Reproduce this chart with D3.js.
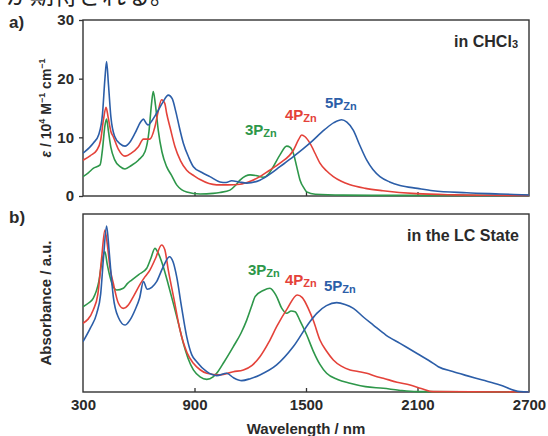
<!DOCTYPE html>
<html><head><meta charset="utf-8">
<script src="https://cdn.jsdelivr.net/npm/d3@7"></script>
<style>
html,body{margin:0;padding:0;background:#fff;}
svg{display:block;}
</style></head>
<body>
<svg id="chart" width="548" height="436"></svg>
<script>
// ---------- data ----------
const xTicks = [300, 900, 1500, 2100, 2700];
const yTicksA = [0, 10, 20, 30];

// Panel a) in CHCl3 : epsilon / 10^4 M-1 cm-1
const wlA3 = [300,330,355,392,405,418,427,437,450,470,500,526,560,598,634,655,668,678,690,705,725,750,775,804,830,858,930,1000,1037,1091,1120,1145,1175,1199,1230,1270,1300,1324,1360,1396,1415,1432,1450,1468,1490,1504,1550,1700,2000,2700];
const epsA3 = [3.3,4.0,4.7,5.3,8,12,13.1,11,8.3,6.2,5.0,4.6,5.2,6.1,7.6,11,15.5,17.8,15.5,11.2,7.5,5.0,3.6,1.9,1.1,0.7,0.35,0.45,0.6,1.0,1.8,2.7,3.4,3.6,3.5,3.2,3.8,5.0,7.0,8.5,8.3,7.3,5.0,2.7,1.3,0.7,0.3,0.15,0.1,0.1];

const wlA4 = [300,340,374,395,410,424,435,450,463,490,526,560,598,625,660,687,705,723,740,750,770,795,825,858,900,930,1019,1080,1145,1200,1252,1300,1360,1432,1460,1477,1495,1521,1550,1575,1610,1647,1690,1737,1820,1914,2096,2300,2500,2700];
const epsA4 = [6.1,6.9,7.8,9.5,13,15.1,13.5,11,10.1,8,6.8,7.3,8.4,9.7,9.7,11.8,14.5,16.4,15.8,14.1,11.5,8.4,6,4.4,3.4,2.8,1.9,1.9,2.0,2.5,3.3,4.3,5.6,7.8,9.6,10.4,10.1,9.0,7.2,5.6,4.3,3.3,2.5,1.9,1.3,0.9,0.4,0.2,0.12,0.08];

const wlA5 = [300,355,385,405,418,427,437,450,470,500,526,555,580,610,625,640,651,670,696,730,759,780,800,820,840,870,894,940,983,1037,1070,1100,1140,1181,1252,1300,1360,1432,1521,1600,1650,1692,1720,1755,1790,1827,1860,1898,1950,2006,2100,2183,2365,2544,2700];
const epsA5 = [7.3,9.0,10.5,14,20,22.9,19,13.5,10.2,8.9,8.5,9.3,10.7,12.6,13.1,12.4,12.1,12.8,14.1,16,17.2,16.6,14.3,11.5,9.0,6.5,5.0,4.0,3.3,2.4,2.3,2.6,2.4,2.2,2.7,3.6,5.0,6.7,9.0,11.3,12.5,13.0,12.6,11.2,8.6,6.1,4.5,3.3,2.4,1.8,1.3,0.9,0.56,0.35,0.17];

// Panel b) in the LC state : absorbance (a.u.)
const wlB3 = [300,330,355,385,405,418,430,445,463,481,517,540,562,600,643,665,687,705,732,760,786,815,840,865,894,930,966,1000,1019,1060,1109,1150,1181,1210,1226,1270,1306,1340,1370,1396,1420,1441,1468,1504,1539,1575,1611,1670,1737,1820,1916,2000,2096,2700];
const absB3 = [0.479,0.50,0.526,0.62,0.75,0.788,0.72,0.648,0.59,0.573,0.583,0.61,0.629,0.66,0.695,0.75,0.807,0.78,0.704,0.60,0.498,0.38,0.273,0.19,0.124,0.085,0.071,0.085,0.105,0.17,0.255,0.33,0.404,0.49,0.536,0.57,0.583,0.54,0.47,0.442,0.455,0.451,0.40,0.32,0.23,0.155,0.105,0.07,0.049,0.03,0.021,0.01,0.002,0.0];

const wlB4 = [300,355,380,400,418,432,445,463,490,517,545,571,610,634,660,690,723,740,759,790,822,860,894,930,966,1037,1109,1163,1210,1252,1300,1342,1400,1453,1480,1512,1540,1575,1610,1647,1690,1737,1780,1827,1870,1916,1990,2060,2120,2185,2700];
const absB4 = [0.386,0.461,0.55,0.75,0.910,0.82,0.70,0.611,0.50,0.470,0.49,0.536,0.61,0.648,0.685,0.75,0.826,0.80,0.685,0.52,0.348,0.22,0.161,0.125,0.105,0.096,0.114,0.124,0.15,0.198,0.28,0.367,0.47,0.545,0.53,0.47,0.40,0.292,0.23,0.180,0.145,0.124,0.115,0.105,0.09,0.077,0.055,0.039,0.02,0.002,0.0];

const wlB5 = [300,340,374,395,410,427,440,452,463,490,526,550,580,605,625,646,670,696,730,765,785,804,830,858,885,912,966,1019,1073,1110,1154,1200,1252,1342,1432,1521,1558,1610,1665,1710,1755,1810,1862,1930,2006,2100,2185,2212,2290,2365,2450,2544,2652,2700];
const absB5 = [0.283,0.36,0.442,0.55,0.75,0.933,0.80,0.65,0.536,0.42,0.376,0.40,0.461,0.53,0.620,0.577,0.588,0.620,0.70,0.760,0.73,0.648,0.48,0.311,0.21,0.170,0.114,0.092,0.105,0.08,0.064,0.075,0.096,0.152,0.255,0.395,0.442,0.485,0.502,0.492,0.470,0.42,0.376,0.32,0.273,0.215,0.161,0.142,0.115,0.092,0.067,0.039,0.002,0.0];

// ---------- layout ----------
const COLORS = { g: "#2e974a", r: "#e4423a", b: "#2c5ea8" };
const TXT = "#2a2a2a";
const FONT = "'Liberation Sans', Arial, Helvetica, sans-serif";
const L = 83, R = 529;
const A = { top: 20, bottom: 196 };
const B = { top: 214, bottom: 392 };

const svg = d3.select("#chart");

// Japanese text cut at top
svg.append("text").attr("x", 6).attr("y", 4)
  .attr("font-family", "'Noto Sans CJK JP', sans-serif").attr("font-size", 24)
  .attr("fill", "#222").text("が期待される。");

const x = d3.scaleLinear().domain([300, 2700]).range([L, R]);
const yA = d3.scaleLinear().domain([0, 30]).range([A.bottom, A.top]);
const yB = d3.scaleLinear().domain([0, 1]).range([B.bottom, B.top]);

function panel(P, yScale, series, clipId) {
  const g = svg.append("g");
  g.append("clipPath").attr("id", clipId).append("rect")
    .attr("x", L).attr("y", P.top - 1).attr("width", R - L).attr("height", P.bottom - P.top + 2);
  g.append("rect").attr("x", L).attr("y", P.top).attr("width", R - L).attr("height", P.bottom - P.top)
    .attr("fill", "none").attr("stroke", "#333").attr("stroke-width", 1.4);
  const xa = g.append("g").attr("transform", `translate(0,${P.bottom})`)
    .call(d3.axisBottom(x).tickValues(xTicks.slice(1, -1)).tickSizeInner(-4).tickSizeOuter(0).tickFormat(""));
  xa.select(".domain").remove();
  xa.selectAll("line").attr("stroke", "#333").attr("stroke-width", 1.3);
  const line = d3.line().x(d => x(d[0])).y(d => yScale(d[1])).curve(d3.curveMonotoneX);
  const lg = g.append("g").attr("clip-path", `url(#${clipId})`);
  series.forEach(s => {
    lg.append("path").datum(d3.zip(s.wl, s.v)).attr("d", line)
      .attr("fill", "none").attr("stroke", s.c).attr("stroke-width", 1.6)
      .attr("stroke-linejoin", "round");
  });
  return g;
}

panel(A, yA, [
  { wl: wlA3, v: epsA3, c: COLORS.g },
  { wl: wlA4, v: epsA4, c: COLORS.r },
  { wl: wlA5, v: epsA5, c: COLORS.b }
], "clipA");

panel(B, yB, [
  { wl: wlB3, v: absB3, c: COLORS.g },
  { wl: wlB4, v: absB4, c: COLORS.r },
  { wl: wlB5, v: absB5, c: COLORS.b }
], "clipB");

// y axis panel a (outward ticks)
const ya = svg.append("g").attr("transform", `translate(${L},0)`)
  .call(d3.axisLeft(yA).tickValues(yTicksA).tickSizeInner(4).tickSizeOuter(0).tickPadding(5));
ya.select(".domain").remove();
ya.selectAll("line").attr("stroke", "#333").attr("stroke-width", 1.3);
ya.selectAll("text").attr("font-family", FONT).attr("font-weight", "bold")
  .attr("font-size", 15).attr("fill", TXT);

// x axis labels (bottom)
const xb = svg.append("g").attr("transform", `translate(0,${B.bottom})`)
  .call(d3.axisBottom(x).tickValues(xTicks).tickFormat(d3.format("d")).tickSize(0).tickPadding(7));
xb.select(".domain").remove();
xb.selectAll("text").attr("font-family", FONT).attr("font-weight", "bold")
  .attr("font-size", 15).attr("fill", TXT);

function txt(xp, yp, size, anchor, fill) {
  return svg.append("text").attr("x", xp).attr("y", yp).attr("font-family", FONT)
    .attr("font-weight", "bold").attr("font-size", size).attr("text-anchor", anchor || "start")
    .attr("fill", fill || TXT);
}

txt(9, 28, 17).text("a)");
txt(9, 223, 17).text("b)");

txt((L + R) / 2, 434, 15, "middle").text("Wavelength / nm");

const ytA = svg.append("text").attr("transform", `translate(51,${(A.top + A.bottom) / 2}) rotate(-90)`)
  .attr("text-anchor", "middle").attr("font-family", FONT).attr("font-weight", "bold")
  .attr("font-size", 14).attr("fill", TXT);
ytA.append("tspan").attr("font-style", "italic").text("ε");
ytA.append("tspan").text(" / 10");
ytA.append("tspan").attr("font-size", 9).attr("dy", -6).text("4");
ytA.append("tspan").attr("dy", 6).text(" M");
ytA.append("tspan").attr("font-size", 9).attr("dy", -6).text("−1");
ytA.append("tspan").attr("dy", 6).text(" cm");
ytA.append("tspan").attr("font-size", 9).attr("dy", -6).text("−1");

svg.append("text").attr("transform", `translate(51,${(B.top + B.bottom) / 2}) rotate(-90)`)
  .attr("text-anchor", "middle").attr("font-family", FONT).attr("font-weight", "bold")
  .attr("font-size", 15).attr("fill", TXT).text("Absorbance / a.u.");

const c1 = txt(518, 47, 16, "end");
c1.append("tspan").text("in CHCl");
c1.append("tspan").attr("font-size", 11).attr("dy", 1).text("3");
txt(519, 241, 16, "end").text("in the LC State");

function seriesLabel(xp, yp, n, color) {
  const t = txt(xp, yp, 15, "start", color);
  t.append("tspan").text(n + "P");
  t.append("tspan").attr("font-size", 11).attr("dy", 2).text("Zn");
}
seriesLabel(245, 135, 3, COLORS.g);
seriesLabel(285, 120, 4, COLORS.r);
seriesLabel(325, 108, 5, COLORS.b);
seriesLabel(248, 275, 3, COLORS.g);
seriesLabel(285, 285, 4, COLORS.r);
seriesLabel(324, 291, 5, COLORS.b);
</script>
</body></html>
